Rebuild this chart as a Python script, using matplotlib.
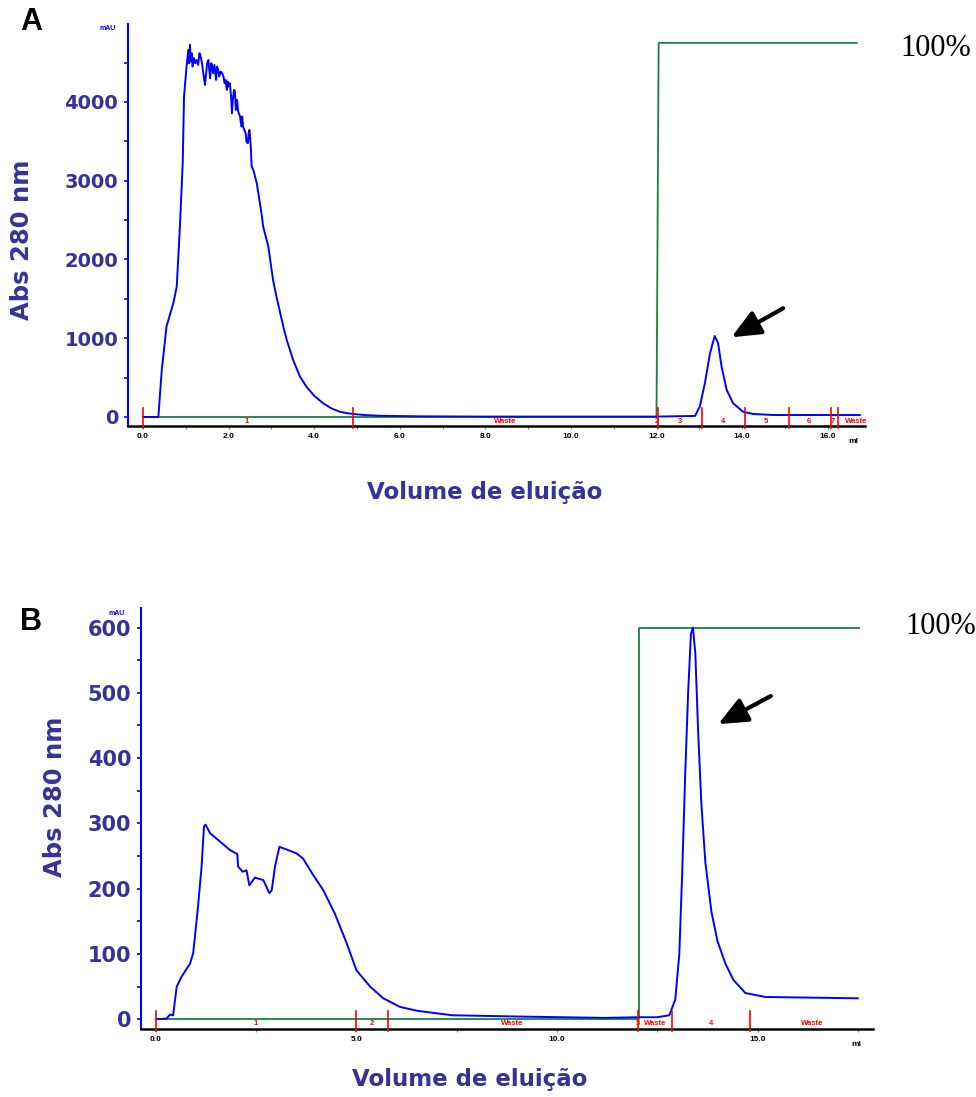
"""Two chromatograms (A, B): Abs 280 nm vs elution volume with step gradient."""

import matplotlib

matplotlib.use("Agg")

import matplotlib.pyplot as plt
from matplotlib.ticker import FixedLocator, FormatStrFormatter
from matplotlib.transforms import blended_transform_factory

BLUE = "#0000ff"
NAVY = "#333399"
GREEN = "#1a7f45"
RED = "#ff0000"

# ---- panel A -------------------------------------------------------------
a_volume = [
    0.00, 0.36, 0.44, 0.55, 0.71, 0.79, 0.86, 0.93, 0.96, 1.00,
    1.02, 1.06, 1.08, 1.10, 1.11, 1.14, 1.16, 1.19, 1.22, 1.25,
    1.29, 1.32, 1.35, 1.38, 1.41, 1.45, 1.47, 1.50, 1.53, 1.55,
    1.57, 1.60, 1.62, 1.64, 1.67, 1.71, 1.73, 1.76, 1.78, 1.82,
    1.85, 1.88, 1.91, 1.93, 1.96, 1.98, 2.00, 2.03, 2.06, 2.08,
    2.10, 2.13, 2.15, 2.17, 2.20, 2.22, 2.24, 2.27, 2.30, 2.32,
    2.34, 2.37, 2.40, 2.42, 2.45, 2.47, 2.49, 2.52, 2.54, 2.58,
    2.66, 2.77, 2.81, 2.93, 3.04, 3.12, 3.28, 3.36, 3.51, 3.67,
    3.82, 4.00, 4.21, 4.40, 4.60, 4.75, 4.91, 5.20, 5.54, 6.50,
    8.00, 10.00, 12.00, 12.90, 13.01, 13.13, 13.25, 13.36, 13.44, 13.52,
    13.64, 13.79, 14.02, 14.26, 14.73, 16.75,
]
a_abs = [
    0, 0, 597, 1147, 1444, 1655, 2375, 3225, 4067, 4321,
    4449, 4660, 4491, 4724, 4512, 4618, 4449, 4555, 4491, 4533,
    4470, 4618, 4576, 4491, 4364, 4216, 4322, 4491, 4533, 4406,
    4301, 4491, 4427, 4364, 4470, 4279, 4449, 4406, 4322, 4385,
    4364, 4322, 4237, 4279, 4152, 4258, 4195, 4237, 4068, 3856,
    4025, 4152, 4131, 3898, 4025, 3898, 3856, 3814, 3687, 3814,
    3687, 3644, 3602, 3496, 3475, 3602, 3644, 3433, 3179, 3136,
    2967, 2587, 2417, 2163, 1740, 1528, 1147, 978, 724, 512,
    385, 270, 174, 110, 67, 50, 38, 24, 15, 8,
    5, 5, 5, 13, 131, 428, 809, 1029, 936, 639,
    343, 174, 67, 38, 25, 25,
]
a_grad_volume = [0.0, 12.0, 12.05, 16.68]
a_grad_level = [0, 0, 4750, 4750]
a_fraction_edges = [0.0, 4.9, 12.03, 13.06, 14.07, 15.09, 16.07, 16.24]
a_fraction_names = ["1", "Waste", "2", "3", "4", "5", "6", "7", "Waste"]
a_fraction_centres = [2.42, 8.46, 12.02, 12.55, 13.56, 14.56, 15.55, 16.13, 16.67]
a_xticks = [0, 2, 4, 6, 8, 10, 12, 14, 16]
a_yticks = [0, 1000, 2000, 3000, 4000]

# ---- panel B -------------------------------------------------------------
b_volume = [
    0.00, 0.27, 0.35, 0.43, 0.52, 0.64, 0.85, 0.93, 1.05, 1.14,
    1.20, 1.24, 1.35, 1.60, 1.85, 2.03, 2.05, 2.16, 2.26, 2.33,
    2.47, 2.68, 2.83, 2.89, 2.97, 3.08, 3.17, 3.51, 3.67, 3.92,
    4.17, 4.46, 4.76, 5.00, 5.34, 5.67, 6.08, 6.50, 7.00, 7.40,
    9.10, 11.20, 12.00, 12.50, 12.80, 12.95, 13.05, 13.12, 13.20, 13.27,
    13.34, 13.39, 13.45, 13.52, 13.60, 13.70, 13.85, 14.00, 14.20, 14.40,
    14.70, 15.20, 17.50,
]
b_abs = [
    0, 1, 7, 6, 50, 65, 85, 101, 172, 234,
    295, 298, 285, 272, 259, 253, 234, 226, 228, 205,
    217, 213, 193, 198, 234, 264, 262, 254, 246, 221,
    198, 162, 116, 75, 50, 32, 19, 13, 9, 6,
    4, 2, 3, 3, 6, 30, 100, 220, 380, 500,
    590, 600, 560, 440, 330, 240, 165, 120, 85, 60,
    40, 34, 32,
]
b_grad_volume = [0.0, 12.04, 12.04, 17.53]
b_grad_level = [0, 0, 600, 600]
b_fraction_edges = [0.0, 4.98, 5.79, 12.01, 12.86, 14.81]
b_fraction_names = ["1", "2", "Waste", "3", "Waste", "4", "Waste"]
b_fraction_centres = [2.49, 5.38, 8.88, 12.01, 12.44, 13.83, 16.37]
b_xticks = [0, 5, 10, 15]
b_yticks = [0, 100, 200, 300, 400, 500, 600]


def draw_panel(ax, vol, absorb, gvol, glev, edges, names, centres,
               xticks, xminor, yticks, yminor, xlim, ylim, ml_x,
               arrow_tail, arrow_tip, ytick_size, mark_h, label_y,
               ylabel_xy, xlabel_xy, mau_xy):
    ax.plot(gvol, glev, color=GREEN, lw=1.3, zorder=2)
    ax.plot(vol, absorb, color=BLUE, lw=1.4, zorder=3)
    ax.set_xlim(*xlim)
    ax.set_ylim(*ylim)

    for side in ("top", "right"):
        ax.spines[side].set_visible(False)
    ax.spines["left"].set_color(BLUE)
    ax.spines["left"].set_linewidth(1.5)
    ax.spines["bottom"].set_color("black")
    ax.spines["bottom"].set_linewidth(1.8)

    ax.xaxis.set_major_locator(FixedLocator(xticks))
    ax.xaxis.set_minor_locator(FixedLocator(xminor))
    ax.xaxis.set_major_formatter(FormatStrFormatter("%.1f"))
    ax.tick_params(axis="x", which="both", length=2, width=0.8, color="#888888",
                   pad=3, labelsize=6)
    for lab in ax.get_xticklabels():
        lab.set_fontweight("bold")
        lab.set_family("Liberation Sans")

    ax.yaxis.set_major_locator(FixedLocator(yticks))
    ax.yaxis.set_minor_locator(FixedLocator(yminor))
    ax.tick_params(axis="y", which="both", length=3, width=1.2, color=BLUE,
                   pad=4, labelsize=ytick_size, labelcolor=NAVY)
    for lab in ax.get_yticklabels():
        lab.set_fontweight("bold")

    trans = blended_transform_factory(ax.transData, ax.transAxes)
    for x in edges:
        ax.plot([x, x], [-0.005, mark_h], color=RED, lw=1.2, transform=trans,
                clip_on=False, zorder=4)
    for x, name in zip(centres, names):
        ax.text(x, label_y, name, color=RED, fontsize=5.5, fontweight="bold",
                family="Liberation Sans", ha="center", va="center", transform=trans)

    ax.text(ml_x, -0.038, "ml", fontsize=6, fontweight="bold", family="Liberation Sans",
            ha="center", va="center", transform=trans)
    ax.text(*mau_xy, "mAU", fontsize=5, fontweight="bold", color=BLUE,
            family="Liberation Sans", ha="center", va="center", transform=ax.transAxes)

    ax.annotate("", xy=arrow_tip, xytext=arrow_tail,
                arrowprops=dict(arrowstyle="-|>,head_length=0.8,head_width=0.35",
                                lw=3, color="black", mutation_scale=22, shrinkA=0, shrinkB=0))

    ax.text(*ylabel_xy, "Abs 280 nm", rotation=90, fontsize=17.5, fontweight="bold",
            color=NAVY, ha="center", va="center", transform=ax.transAxes)
    ax.text(*xlabel_xy, "Volume de eluição", fontsize=16.5, fontweight="bold",
            color=NAVY, ha="center", va="center", transform=ax.transAxes)


def main():
    fig = plt.figure(figsize=(9.76, 10.97), dpi=100)

    ax_a = fig.add_axes([0.1311, 0.6117, 0.7551, 0.3665])
    draw_panel(
        ax_a, a_volume, a_abs, a_grad_volume, a_grad_level,
        a_fraction_edges, a_fraction_names, a_fraction_centres,
        a_xticks, [1, 3, 5, 7, 9, 11, 13, 15], a_yticks,
        [500, 1500, 2500, 3500, 4500],
        (-0.35, 16.87), (-114, 4990), 16.6,
        (14.96, 1380), (13.75, 1012), 14, 0.045, 0.012,
        (-0.144, 0.464), (0.484, -0.165), (-0.027, 0.988),
    )

    ax_b = fig.add_axes([0.1445, 0.0620, 0.7500, 0.3838])
    draw_panel(
        ax_b, b_volume, b_abs, b_grad_volume, b_grad_level,
        b_fraction_edges, b_fraction_names, b_fraction_centres,
        b_xticks, [2.5, 7.5, 12.5, 17.5], b_yticks,
        [50, 150, 250, 350, 450, 550],
        (-0.37, 17.88), (-15, 630), 17.46,
        (15.33, 495), (14.02, 452), 15, 0.043, 0.014,
        (-0.117, 0.551), (0.449, -0.121), (-0.033, 0.986),
    )

    fig.text(20 / 976, 1 - 22 / 1097, "A", fontsize=22, fontweight="bold",
             family="Liberation Sans", ha="left", va="center")
    fig.text(20 / 976, 1 - 622 / 1097, "B", fontsize=22, fontweight="bold",
             family="Liberation Sans", ha="left", va="center")
    fig.text(900 / 976, 1 - 49 / 1097, "100%", fontsize=22, family="Liberation Serif",
             ha="left", va="center")
    fig.text(905 / 976, 1 - 627 / 1097, "100%", fontsize=22, family="Liberation Serif",
             ha="left", va="center")

    fig.savefig("out.png", dpi=100)
    plt.close(fig)


if __name__ == "__main__":
    main()
